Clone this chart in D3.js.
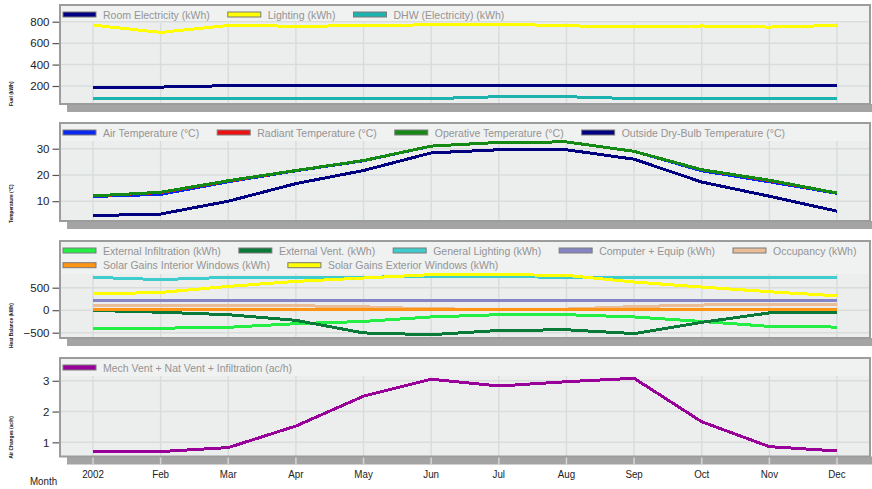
<!DOCTYPE html>
<html><head><meta charset="utf-8">
<script src="https://cdn.jsdelivr.net/npm/d3@7"></script>
<style>
body{margin:0;background:#fff;}
svg{display:block;font-family:"Liberation Sans",Arial,sans-serif;}
</style></head><body>
<svg id="chart" width="872" height="489"></svg>
<script>
// ---- data -------------------------------------------------------------
const months = ["2002","Feb","Mar","Apr","May","Jun","Jul","Aug","Sep","Oct","Nov","Dec"];

// Fuel breakdown (kWh)
const roomElectricity = [190,190,203,203,203,203,203,203,203,203,203,203];
const lighting        = [768,700,765,758,762,772,778,762,752,760,750,765];
const dhwElectricity  = [82,82,82,82,82,82,100,100,82,82,82,82];

// Temperatures (°C)
const airTemp       = [11.8,12.6,17.4,21.6,25.4,31.0,32.4,32.6,29.0,21.6,17.4,13.0];
const radiantTemp   = [12.0,13.3,17.7,21.7,25.5,31.0,32.4,32.6,29.0,22.0,17.9,13.1];
const operativeTemp = [12.0,13.4,17.8,21.7,25.5,31.0,32.4,32.6,29.0,22.0,18.0,13.1];
const outsideTemp   = [4.5,5.1,10.0,16.7,21.7,28.4,29.6,29.6,26.0,17.3,11.9,6.2];

// Heat balance (kWh)
const extInfiltration  = [-410,-400,-380,-300,-250,-150,-100,-100,-150,-250,-360,-375];
const extVent          = [-5,-45,-100,-225,-505,-545,-450,-435,-520,-270,-60,-50];
const generalLighting  = [730,680,730,725,735,745,748,730,725,730,725,730];
const computerEquip    = [210,210,210,210,210,210,210,210,210,210,210,210];
const occupancy        = [110,110,110,100,75,30,20,25,80,115,125,125];
const solarInterior    = [5,5,5,5,5,5,5,5,5,5,5,5];
const solarExterior    = [360,395,530,640,715,790,790,775,625,515,410,320];

// Ventilation (ac/h)
const airChanges = [0.70,0.70,0.83,1.53,2.50,3.05,2.83,2.97,3.08,1.67,0.86,0.72];

const fuelTicks = [200,400,600,800];
const tempTicks = [10,20,30];
const heatTicks = [-500,0,500];
const achTicks  = [1,2,3];

// ---- layout -----------------------------------------------------------
const svg = d3.select("#chart");
const frameL = 60, frameR = 870;
const x = d3.scalePoint().domain(months).range([93, 837]);

const panels = [
  { top:5, bottom:104, domain:[32,956], ticks:fuelTicks, title:"Fuel (kWh)",
    legendRows:[[0,1,2]],
    series:[
      {name:"Room Electricity (kWh)", color:"#000080", values:roomElectricity},
      {name:"Lighting (kWh)", color:"#ffff00", values:lighting},
      {name:"DHW (Electricity) (kWh)", color:"#1cb3ae", values:dhwElectricity}
    ]},
  { top:123, bottom:221, domain:[2.45,39.8], ticks:tempTicks, title:"Temperature (°C)",
    legendRows:[[0,1,2,3]],
    series:[
      {name:"Air Temperature (°C)", color:"#0a28f0", values:airTemp},
      {name:"Radiant Temperature (°C)", color:"#ee1111", values:radiantTemp},
      {name:"Operative Temperature (°C)", color:"#148a14", values:operativeTemp},
      {name:"Outside Dry-Bulb Temperature (°C)", color:"#000080", values:outsideTemp}
    ]},
  { top:241, bottom:338, domain:[-618,1538], ticks:heatTicks, title:"Heat Balance (kWh)",
    legendRows:[[0,1,2,3,4],[5,6]],
    series:[
      {name:"External Infiltration (kWh)", color:"#22ee44", values:extInfiltration},
      {name:"External Vent. (kWh)", color:"#0a7a38", values:extVent},
      {name:"General Lighting (kWh)", color:"#3fcccc", values:generalLighting},
      {name:"Computer + Equip (kWh)", color:"#8585c6", values:computerEquip},
      {name:"Occupancy (kWh)", color:"#e9bd98", values:occupancy},
      {name:"Solar Gains Interior Windows (kWh)", color:"#ff9412", values:solarInterior},
      {name:"Solar Gains Exterior Windows (kWh)", color:"#ffff00", values:solarExterior}
    ]},
  { top:358, bottom:456.5, domain:[0.54,3.74], ticks:achTicks, title:"Air Changes (ac/h)",
    legendRows:[[0]],
    series:[
      {name:"Mech Vent + Nat Vent + Infiltration (ac/h)", color:"#990099", values:airChanges}
    ]}
];

panels.forEach((p, pi) => {
  const g = svg.append("g");
  const y = d3.scaleLinear().domain(p.domain).range([p.bottom, p.top]);
  const legendH = p.legendRows.length * 15 + 3;
  const gridTop = p.top + legendH;

  // drop shadow under the frame
  g.append("rect").attr("x", frameL + 7).attr("y", p.bottom)
    .attr("width", frameR - frameL + 8).attr("height", 8).attr("fill", "#a4a4a4");

  // plot background
  g.append("rect").attr("x", frameL).attr("y", p.top)
    .attr("width", frameR - frameL).attr("height", p.bottom - p.top)
    .attr("fill", "#eceeee");
  g.append("rect").attr("x", frameL).attr("y", p.top)
    .attr("width", frameR - frameL).attr("height", legendH)
    .attr("fill", "#f0f1f1");

  // grid
  g.append("g").selectAll("line").data(months).join("line")
    .attr("x1", d => x(d)).attr("x2", d => x(d))
    .attr("y1", gridTop).attr("y2", p.bottom)
    .attr("stroke", "#dadcdc").attr("stroke-width", 1.5);
  g.append("g").selectAll("line").data(p.ticks).join("line")
    .attr("x1", frameL).attr("x2", frameR)
    .attr("y1", d => y(d)).attr("y2", d => y(d))
    .attr("stroke", "#dadcdc").attr("stroke-width", 1.5);

  // y axis
  const axis = d3.axisLeft(y).tickValues(p.ticks).tickSize(7).tickPadding(3)
    .tickFormat(d3.format("d"));
  const ag = g.append("g").attr("transform", `translate(${frameL - 0.5},0)`).call(axis);
  ag.select(".domain").remove();
  ag.selectAll(".tick line").attr("stroke", "#555").attr("stroke-width", 1.2);
  ag.selectAll(".tick text").attr("font-size", 11.5).attr("fill", "#222")
    .attr("font-family", "'Liberation Sans',Arial,sans-serif");

  // y axis title (small, rotated), running up from the panel's bottom edge
  g.append("text")
    .attr("transform", `translate(13,${p.bottom + 2 + (pi === 2 ? 8 : 0)}) rotate(-90)`)
    .attr("text-anchor", "start").attr("font-size", 4.8).attr("font-weight", "bold")
    .attr("fill", "#111").text(p.title);

  // series lines
  const clipId = "clip" + pi;
  g.append("clipPath").attr("id", clipId).append("rect")
    .attr("x", frameL).attr("y", p.top).attr("width", frameR - frameL).attr("height", p.bottom - p.top);
  const line = d3.line().x((d, i) => x(months[i])).y(d => y(d));
  g.append("g").attr("clip-path", `url(#${clipId})`)
    .selectAll("path").data(p.series).join("path")
    .attr("d", s => line(s.values))
    .attr("fill", "none").attr("stroke", s => s.color)
    .attr("stroke-width", 3).attr("shape-rendering", "crispEdges");

  // frame
  g.append("rect").attr("x", frameL).attr("y", p.top)
    .attr("width", frameR - frameL).attr("height", p.bottom - p.top)
    .attr("fill", "none").attr("stroke", "#9c9c9c").attr("stroke-width", 2);

  // legend
  p.legendRows.forEach((row, ri) => {
    const cy = p.top + 9.5 + ri * 14.7;
    let cx = 63;
    row.forEach(si => {
      const s = p.series[si];
      g.append("rect").attr("x", cx).attr("y", cy - 2.5).attr("width", 33).attr("height", 5)
        .attr("fill", s.color).attr("stroke", "#7a7a7a").attr("stroke-width", 1);
      const t = g.append("text").attr("x", cx + 40).attr("y", cy + 4)
        .attr("font-size", 10.5).attr("fill", "#949494").text(s.name);
      cx = cx + 40 + t.node().getComputedTextLength() + 18;
    });
  });

  // month axis under the last panel
  if (pi === panels.length - 1) {
    g.append("g").selectAll("line").data(months).join("line")
      .attr("x1", d => x(d)).attr("x2", d => x(d))
      .attr("y1", p.bottom + 1).attr("y2", p.bottom + 8)
      .attr("stroke", "#d6d6d6").attr("stroke-width", 1.5);
    g.append("g").selectAll("text").data(months).join("text")
      .attr("x", d => x(d)).attr("y", p.bottom + 21.5)
      .attr("text-anchor", "middle").attr("font-size", 11.5).attr("fill", "#222")
      .attr("transform", d => `translate(${x(d)},0) scale(0.85,1) translate(${-x(d)},0)`)
      .text(d => d);
    g.append("text").attr("x", 30).attr("y", p.bottom + 28.5)
      .attr("font-size", 11.5).attr("fill", "#222")
      .attr("transform", "translate(30,0) scale(0.85,1) translate(-30,0)")
      .text("Month");
  }
});
</script>
</body></html>
